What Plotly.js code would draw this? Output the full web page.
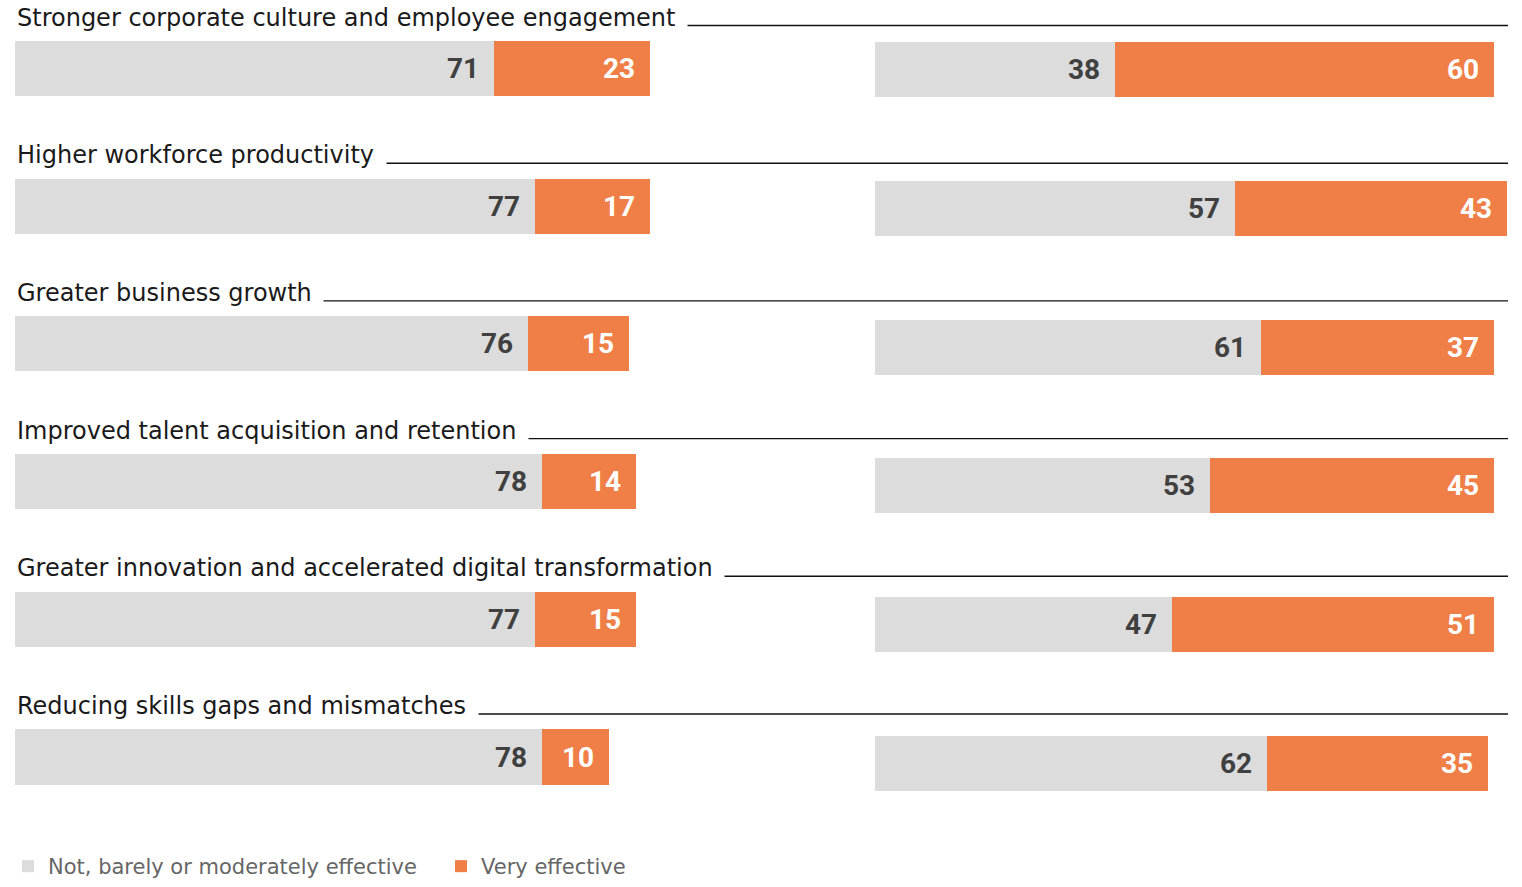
<!DOCTYPE html>
<html>
<head>
<meta charset="utf-8">
<script src="https://cdn.plot.ly/plotly-3.0.1.min.js"></script>
<style>html,body{margin:0;padding:0;background:#fff;}#chart{width:1522px;height:887px;}</style>
</head>
<body>
<div id="chart"></div>
<script>
const categories = [
  "Stronger corporate culture and employee engagement",
  "Higher workforce productivity",
  "Greater business growth",
  "Improved talent acquisition and retention",
  "Greater innovation and accelerated digital transformation",
  "Reducing skills gaps and mismatches"
];
const leftNot = [71, 77, 76, 78, 77, 78];
const leftVery = [23, 17, 15, 14, 15, 10];
const rightNot = [38, 57, 61, 53, 47, 62];
const rightVery = [60, 43, 37, 45, 51, 35];
const seriesNames = ["Not, barely or moderately effective", "Very effective"];

const GRAY = "#DCDCDC", ORANGE = "#EF7F47";
const W = 1522, H = 887;
const TITLE_FONT = "DejaVu Sans";
const NUM_FONT = "Roboto";

function bar(x, name, color, xa, ya, width, showlegend) {
  return {
    type: "bar", orientation: "h", x: x, y: categories, name: name,
    xaxis: xa, yaxis: ya, width: width, legendgroup: name, showlegend: showlegend,
    marker: {color: color, line: {width: 0}}, hoverinfo: "x+name"
  };
}

const traces = [
  bar(leftNot, seriesNames[0], GRAY, "x", "y", 0.4, true),
  bar(leftVery, seriesNames[1], ORANGE, "x", "y", 0.4, true),
  bar(rightNot, seriesNames[0], GRAY, "x2", "y2", 0.396, false),
  bar(rightVery, seriesNames[1], ORANGE, "x2", "y2", 0.396, false)
];

const annotations = [];
const shapes = [];
function valueLabels(notArr, veryArr, xr, yr) {
  categories.forEach((c, i) => {
    annotations.push({x: notArr[i], y: c, xref: xr, yref: yr, text: String(notArr[i]),
      showarrow: false, xanchor: "right", yanchor: "middle", xshift: -13,
      font: {family: NUM_FONT, size: 28, color: "#404040", weight: 700}});
    annotations.push({x: notArr[i] + veryArr[i], y: c, xref: xr, yref: yr, text: String(veryArr[i]),
      showarrow: false, xanchor: "right", yanchor: "middle", xshift: -13,
      font: {family: NUM_FONT, size: 28, color: "#ffffff", weight: 700}});
  });
}
valueLabels(leftNot, leftVery, "x", "y");
valueLabels(rightNot, rightVery, "x2", "y2");

categories.forEach((c, i) => {
  shapes.push({type: "line", xref: "paper", yref: "y", ysizemode: "pixel", yanchor: c,
    x0: 15 / W, x1: 1508 / W, y0: 43, y1: 43, line: {color: "#111", width: 1.4}});
  annotations.push({x: 12 / W, xref: "paper", y: c, yref: "y", yshift: 51,
    text: c + "\u00a0", showarrow: false, xanchor: "left", yanchor: "middle",
    bgcolor: "#ffffff", borderpad: 4,
    font: {family: TITLE_FONT, size: 24, color: "#1a1a1a"}});
});

const layout = {
  width: W, height: H,
  margin: {l: 0, r: 0, t: 0, b: 0},
  paper_bgcolor: "#fff", plot_bgcolor: "#fff",
  barmode: "stack", showlegend: true,
  xaxis: {domain: [15 / W, 690 / W], range: [0, 100], visible: false, fixedrange: true},
  yaxis: {domain: [0, 1], type: "category", range: [5.944, -0.4975], visible: false, fixedrange: true},
  xaxis2: {domain: [875 / W, 1507 / W], range: [0, 100], anchor: "y2", visible: false, fixedrange: true},
  yaxis2: {domain: [0, 1], type: "category", range: [5.89, -0.5007], anchor: "x2", visible: false, fixedrange: true},
  legend: {orientation: "h", x: 8 / W, y: 0, xanchor: "left", yanchor: "bottom",
    font: {family: TITLE_FONT, size: 21, color: "#666"}, entrywidth: 388, traceorder: "normal",
    bgcolor: "rgba(0,0,0,0)"},
  annotations: annotations, shapes: shapes
};

Plotly.newPlot("chart", traces, layout, {displayModeBar: false});
</script>
</body>
</html>
